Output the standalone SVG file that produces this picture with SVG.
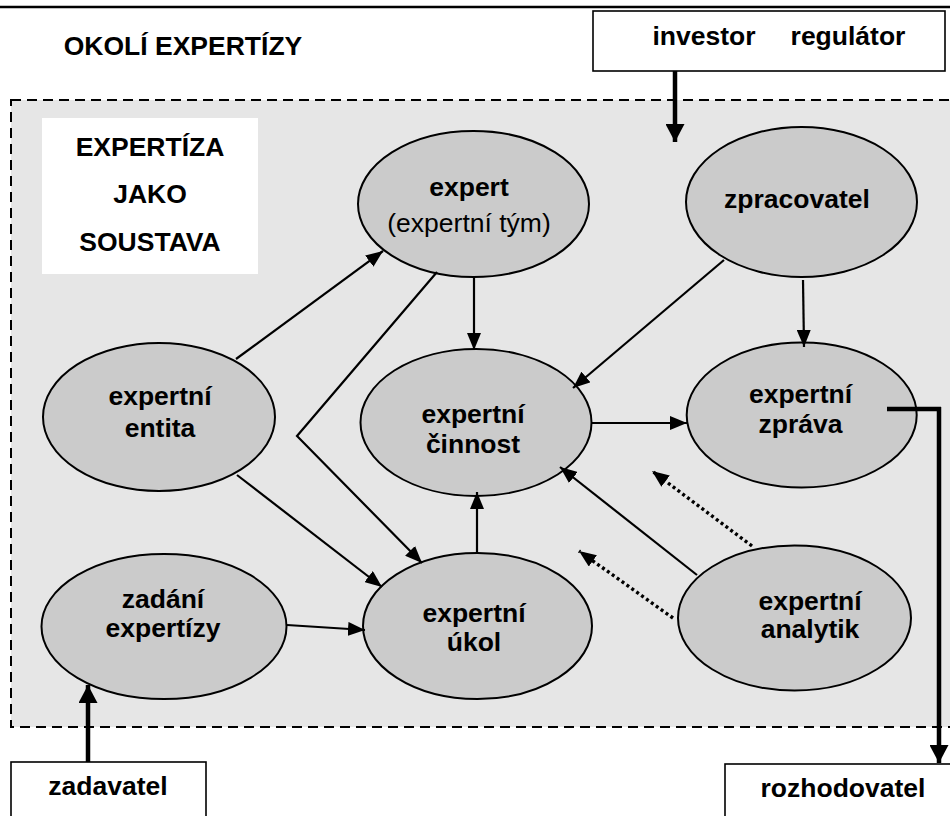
<svg xmlns="http://www.w3.org/2000/svg" width="950" height="816" viewBox="0 0 950 816">
<defs>
<marker id="ah" markerUnits="userSpaceOnUse" markerWidth="17" markerHeight="14" refX="17" refY="7" orient="auto"><path d="M0,0 L17,7 L0,14 z" fill="#000"/></marker>
<marker id="ahb" markerUnits="userSpaceOnUse" markerWidth="18" markerHeight="19" refX="18" refY="9.5" orient="auto"><path d="M0,0 L18,9.5 L0,19 z" fill="#000"/></marker>
<style>
.t{font-family:"Liberation Sans",Arial,sans-serif;font-size:26.5px;font-weight:bold;fill:#000;text-anchor:middle}
.r{font-weight:normal}
.el{fill:#cbcbcb;stroke:#000;stroke-width:2}
.box{fill:#fff;stroke:#000;stroke-width:1.6}
.c{fill:none;stroke:#000;stroke-width:2.2;marker-end:url(#ah)}
.d{fill:none;stroke:#000;stroke-width:3.4;stroke-dasharray:3 3;marker-end:url(#ah)}
.k{fill:none;stroke:#000;stroke-width:4.5}
</style>
</defs>
<rect width="950" height="816" fill="#fff"/>
<line x1="0" y1="7" x2="950" y2="7" stroke="#000" stroke-width="2.5"/>
<rect x="11" y="100" width="960" height="627" fill="#e6e6e6" stroke="#000" stroke-width="2" stroke-dasharray="10 6"/>
<text class="t" x="183" y="55">OKOLÍ EXPERTÍZY</text>
<g id="legend">
<rect x="42" y="118" width="216" height="156" fill="#fff"/>
<text class="t" x="150" y="156">EXPERTÍZA</text>
<text class="t" x="150" y="203">JAKO</text>
<text class="t" x="150" y="251">SOUSTAVA</text>
</g>
<g id="investor">
<rect class="box" x="593" y="11" width="352" height="60"/>
<text class="t" x="704" y="45">investor</text>
<text class="t" x="848" y="45">regulátor</text>
</g>
<g id="zadavatel">
<rect class="box" x="11" y="762" width="195" height="70"/>
<text class="t" x="108" y="795">zadavatel</text>
</g>
<g id="rozhodovatel">
<rect class="box" x="725" y="764" width="240" height="70"/>
<text class="t" x="843" y="797">rozhodovatel</text>
</g>
<g id="expert">
<ellipse class="el" cx="473.5" cy="204" rx="115.5" ry="73"/>
<text class="t" x="469" y="196">expert</text>
<text class="t r" x="469" y="232">(expertní tým)</text>
</g>
<g id="zpracovatel">
<ellipse class="el" cx="801.5" cy="202" rx="115.5" ry="75"/>
<text class="t" x="797" y="208">zpracovatel</text>
</g>
<g id="cinnost">
<ellipse class="el" cx="476" cy="422.5" rx="115.5" ry="73.5"/>
<text class="t" x="473" y="423">expertní</text>
<text class="t" x="473" y="453">činnost</text>
</g>
<g id="zprava">
<ellipse class="el" cx="801.7" cy="415" rx="115" ry="72.5"/>
<text class="t" x="800.5" y="403">expertní</text>
<text class="t" x="800.5" y="433">zpráva</text>
</g>
<g id="entita">
<ellipse class="el" cx="159" cy="417" rx="116" ry="74"/>
<text class="t" x="160" y="405">expertní</text>
<text class="t" x="160" y="437">entita</text>
</g>
<g id="zadani">
<ellipse class="el" cx="164" cy="626.5" rx="122.5" ry="72.5"/>
<text class="t" x="163" y="608">zadání</text>
<text class="t" x="163" y="637">expertízy</text>
</g>
<g id="ukol">
<ellipse class="el" cx="477.5" cy="626" rx="114.5" ry="73"/>
<text class="t" x="474" y="622">expertní</text>
<text class="t" x="474" y="651">úkol</text>
</g>
<g id="analytik">
<ellipse class="el" cx="794.5" cy="618" rx="116.5" ry="72.5"/>
<text class="t" x="810" y="610">expertní</text>
<text class="t" x="810" y="638">analytik</text>
</g>
<g id="connectors">
<path class="c" d="M236,359 L383,251"/>
<path class="c" d="M437,272 L297,436 L422,563"/>
<path class="c" d="M237,475 L382,587"/>
<path class="c" d="M474,278 L474,350"/>
<path class="c" d="M724,260 L573,388"/>
<path class="c" d="M803,280 L804,347"/>
<path class="c" d="M592,423 L687,423"/>
<path class="c" d="M477,553 L477,492"/>
<path class="c" d="M697,575 L560,467"/>
<path class="d" d="M752,546 L652,471"/>
<path class="d" d="M673,618 L579,551"/>
<path class="c" d="M287,625 L365,630"/>
<path class="k" d="M675,71 L675,142" marker-end="url(#ahb)"/>
<path class="k" d="M88,762 L88,685" marker-end="url(#ahb)"/>
<path class="k" d="M887,409 L941,409"/>
<path class="k" d="M939,407 L939,763" marker-end="url(#ahb)"/>
</g>
</svg>
